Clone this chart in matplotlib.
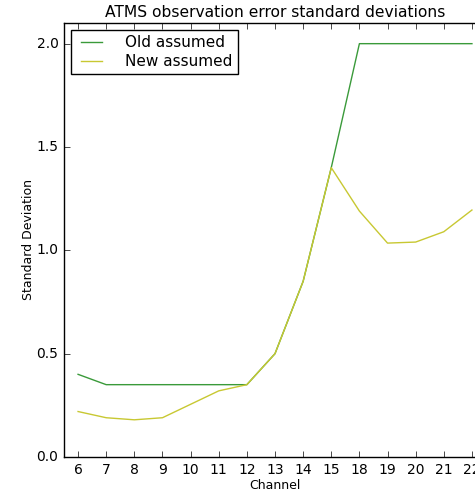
import numpy as np
import matplotlib
matplotlib.use('Agg')
import matplotlib.pyplot as plt

# ATMS channels plotted (16 and 17 are not used)
CHANNELS = ['6', '7', '8', '9', '10', '11', '12', '13', '14', '15',
            '18', '19', '20', '21', '22']

# Observation error standard deviations per channel
OLD_SD = [0.40, 0.35, 0.35, 0.35, 0.35, 0.35, 0.35, 0.50, 0.85, 1.40,
          2.00, 2.00, 2.00, 2.00, 2.00]
NEW_SD = [0.22, 0.19, 0.18, 0.19, 0.255, 0.32, 0.35, 0.50, 0.85, 1.40,
          1.19, 1.035, 1.04, 1.09, 1.195]

plt.style.use('classic')
plt.rcParams['font.family'] = 'DejaVu Sans'

fig = plt.figure(figsize=(4.75, 4.96), dpi=100)
fig.patch.set_facecolor('white')
ax = fig.add_axes([64 / 475, 39 / 496, 422 / 475, 434 / 496])

x = np.arange(len(CHANNELS))
ax.plot(x, OLD_SD, color='#3a9a3a', lw=1.0, label='Old assumed')
ax.plot(x, NEW_SD, color='#c8c832', lw=1.0, label='New assumed')

ax.set_xlim(-0.5, len(CHANNELS) - 0.5)
ax.set_ylim(0, 2.1)
ax.set_xticks(x)
ax.set_xticklabels(CHANNELS)
ax.set_yticks([0.0, 0.5, 1.0, 1.5, 2.0])
ax.tick_params(labelsize=10, direction='in', length=4, top=True, right=True)

ax.set_xlabel('Channel', fontsize=9, labelpad=2)
ax.set_ylabel('Standard Deviation', fontsize=9, labelpad=1)
ax.set_title('ATMS observation error standard deviations', fontsize=11.2, pad=4)

leg = ax.legend(loc='upper left', fontsize=11, frameon=True, fancybox=False,
                borderaxespad=0.45, handlelength=2.0, labelspacing=0.25,
                borderpad=0.35, handletextpad=1.2)
leg.get_frame().set_edgecolor('black')

fig.savefig('out.png', dpi=100, facecolor='white')
